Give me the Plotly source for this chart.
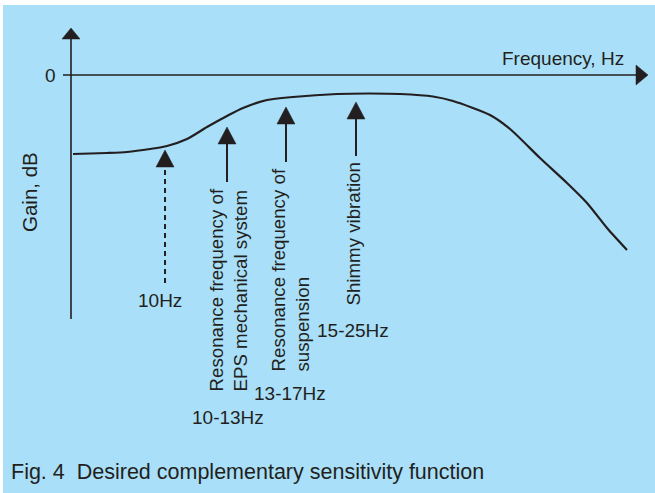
import plotly.graph_objects as go

# ---------------- data ----------------
# schematic frequency axis (arbitrary units) and gain (dB, arbitrary scale, 0 = reference line)
curve_freq = [0.35, 6.37, 9.91, 13.98, 16.99, 20.53, 24.07, 27.61, 30.44, 34.69, 39.29,
              47.08, 52.92, 58.23, 64.07, 67.61, 74.16, 77.70, 83.01, 87.79, 91.33, 94.87, 98.41]
curve_gain = [-15.8, -15.6, -15.4, -14.8, -14.2, -12.8, -10.4, -8.2, -6.6, -5.0, -4.4,
              -3.8, -3.7, -3.8, -4.3, -5.2, -8.0, -10.8, -16.6, -21.6, -25.6, -30.6, -35.0]

arrow_freq = [16.64, 27.61, 38.05, 50.44]
arrow_tip_gain = [-15.0, -10.4, -6.4, -5.4]
arrow_tail_gain = [-41.6, -21.4, -17.4, -16.2]
arrow_dashed = [True, False, False, False]

range_labels = ["10Hz", "10-13Hz", "13-17Hz", "15-25Hz"]
desc_labels = ["", "Resonance frequency of<br>EPS mechanical system",
               "Resonance frequency of<br>suspension", "Shimmy vibration"]

zero_tick_label = "0"
x_title = "Frequency, Hz"
y_title = "Gain, dB"
caption = "Fig. 4  Desired complementary sensitivity function"

# ---------------- layout geometry ----------------
W, H = 655, 493
PX_PER_F = 5.65
PX_PER_G = 5.0
ORIGIN_PX = (71, 75)  # pixel position of (f=0, gain=0)
X_RANGE = [-ORIGIN_PX[0] / PX_PER_F, (W - ORIGIN_PX[0]) / PX_PER_F]
Y_RANGE = [-(H - ORIGIN_PX[1]) / PX_PER_G, ORIGIN_PX[1] / PX_PER_G]

INK = "#231F20"
BG = "#A9DFF8"
FONT = "Liberation Sans, Arial, sans-serif"


def dfx(px):  # pixel length -> data length (x)
    return px / PX_PER_F


def dfy(px):  # pixel length -> data length (y)
    return px / PX_PER_G


def px_x(px):
    return (px - ORIGIN_PX[0]) / PX_PER_F


def px_y(py):
    return -(py - ORIGIN_PX[1]) / PX_PER_G


fig = go.Figure()

# axes drawn as lines
y_axis_bottom = px_y(319)
y_axis_top = px_y(37)
fig.add_trace(go.Scatter(x=[0, 0], y=[y_axis_bottom, y_axis_top], mode="lines",
                         line=dict(color=INK, width=1.6), hoverinfo="skip"))
x_axis_left = px_x(63)
x_axis_right = px_x(637)
fig.add_trace(go.Scatter(x=[x_axis_left, x_axis_right], y=[0, 0], mode="lines",
                         line=dict(color=INK, width=1.6), hoverinfo="skip"))

# axis arrow heads (polygons)
tip_top = px_y(28)
hw, hh = 9, 11
fig.add_trace(go.Scatter(x=[-dfx(hw), dfx(hw), 0, -dfx(hw)],
                         y=[tip_top - dfy(hh), tip_top - dfy(hh), tip_top, tip_top - dfy(hh)],
                         mode="lines", fill="toself", fillcolor=INK, line=dict(color=INK, width=0.5),
                         hoverinfo="skip"))
tip_right = px_x(648)
rl, rh = 12, 10
fig.add_trace(go.Scatter(x=[tip_right - dfx(rl), tip_right, tip_right - dfx(rl), tip_right - dfx(rl)],
                         y=[dfy(rh), 0, -dfy(rh), dfy(rh)],
                         mode="lines", fill="toself", fillcolor=INK, line=dict(color=INK, width=0.5),
                         hoverinfo="skip"))

# gain curve
fig.add_trace(go.Scatter(x=curve_freq, y=curve_gain, mode="lines", line_shape="spline",
                         line=dict(color=INK, width=2.2, smoothing=0.7), hoverinfo="skip"))

# annotation arrows
AH_W, AH_H = 9, 17
for f, tip, tail, dashed in zip(arrow_freq, arrow_tip_gain, arrow_tail_gain, arrow_dashed):
    base = tip - dfy(AH_H)
    fig.add_trace(go.Scatter(x=[f, f], y=[tail, base + dfy(2)], mode="lines",
                             line=dict(color=INK, width=2, dash="5px,4px" if dashed else "solid"),
                             hoverinfo="skip"))
    fig.add_trace(go.Scatter(x=[f - dfx(AH_W), f + dfx(AH_W), f, f - dfx(AH_W)],
                             y=[base, base, tip, base], mode="lines", fill="toself",
                             fillcolor=INK, line=dict(color=INK, width=0.5), hoverinfo="skip"))

FS = 19


def P(px, py):
    return px / W, 1 - py / H


annotations = []


def ann(text, px, py, xanchor="center", yanchor="middle", angle=0, align="center", size=FS):
    x, y = P(px, py)
    annotations.append(dict(text=text, x=x, y=y, xref="paper", yref="paper", showarrow=False,
                            xanchor=xanchor, yanchor=yanchor, textangle=angle, align=align,
                            font=dict(family=FONT, size=size, color=INK)))


ann(zero_tick_label, 50, 76)
ann(x_title, 626, 58, xanchor="right")
ann(y_title, 29, 192, angle=-90, size=20.5)
ann(caption, 9, 472, xanchor="left", size=21.5)

# range labels
ann(range_labels[0], 160, 300)
ann(range_labels[1], 228, 417)
ann(range_labels[2], 290, 393)
ann(range_labels[3], 353, 330)

# rotated descriptions
ann(desc_labels[1], 228, 394, yanchor="bottom", angle=-90, align="left", size=18.7)
ann(desc_labels[2], 290, 374, yanchor="bottom", angle=-90, align="left", size=18.7)
ann(desc_labels[3], 353, 308, yanchor="bottom", angle=-90, align="left", size=18.7)

# background with white top/left border
shapes = [dict(type="rect", xref="paper", yref="paper", x0=3 / W, x1=1, y0=0, y1=1 - 5 / H,
               fillcolor=BG, line=dict(width=0), layer="below")]

fig.update_layout(
    width=W, height=H, margin=dict(l=0, r=0, t=0, b=0),
    paper_bgcolor="white", plot_bgcolor="rgba(0,0,0,0)",
    showlegend=False,
    xaxis=dict(range=X_RANGE, visible=False, fixedrange=True),
    yaxis=dict(range=Y_RANGE, visible=False, fixedrange=True),
    annotations=annotations, shapes=shapes,
)

fig.write_html("out.html", config={"displayModeBar": False},
               post_script="document.body.style.margin='0';document.body.style.overflow='hidden';")
